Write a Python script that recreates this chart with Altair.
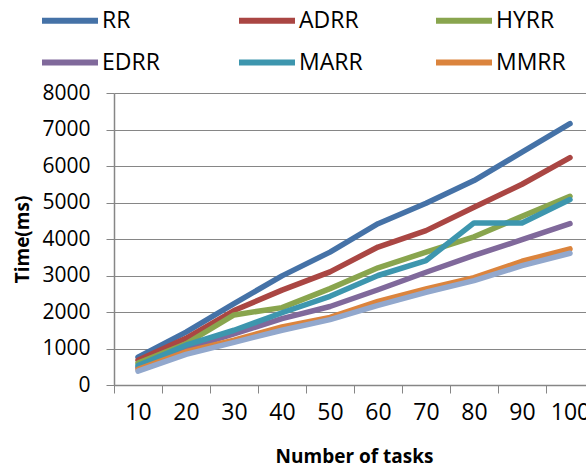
import altair as alt
import pandas as pd

tasks = [10, 20, 30, 40, 50, 60, 70, 80, 90, 100]
series_names = ["RR", "ADRR", "HYRR", "EDRR", "MARR", "MMRR"]
series_colors = ["#4572A7", "#AA4643", "#89A54E", "#80699B", "#3D96AE", "#DB843D"]
rr = [760, 1450, 2230, 2990, 3640, 4420, 4980, 5600, 6380, 7160]
adrr = [680, 1280, 2040, 2600, 3100, 3780, 4230, 4870, 5500, 6230]
hyrr = [600, 1130, 1920, 2120, 2640, 3210, 3640, 4060, 4620, 5170]
edrr = [480, 1000, 1400, 1820, 2150, 2610, 3090, 3550, 3980, 4420]
marr = [530, 1090, 1500, 1980, 2430, 3000, 3410, 4440, 4440, 5080]
mmrr = [430, 910, 1230, 1590, 1850, 2290, 2630, 2940, 3390, 3730]
extra_name = "Series7"
extra_color = "#92A8CD"
extra = [380, 840, 1170, 1500, 1790, 2180, 2540, 2860, 3270, 3610]
y_ticks = [0, 1000, 2000, 3000, 4000, 5000, 6000, 7000, 8000]

values = [rr, adrr, hyrr, edrr, marr, mmrr]
rows = []
for name, vals in zip(series_names, values):
    for t, v in zip(tasks, vals):
        rows.append({"tasks": str(t), "series": name, "time": v})
df = pd.DataFrame(rows)
df_extra = pd.DataFrame({"tasks": [str(t) for t in tasks], "time": extra, "series": extra_name})

GRAY = "#868686"
x_enc = alt.X(
    "tasks:O",
    sort=[str(t) for t in tasks],
    scale=alt.Scale(type="band", paddingInner=0, paddingOuter=0, range=[0, 480]),
    axis=alt.Axis(
        title="Number of tasks",
        tickBand="extent",
        labelAngle=0,
        labelFont="Open Sans",
        labelFontSize=23,
        labelColor="#000000",
        labelPadding=8,
        tickSize=8,
        tickColor=GRAY,
        domainColor=GRAY,
        domainWidth=1.5,
        grid=False,
        titleFont="Open Sans",
        titleFontSize=19,
        titleFontWeight="bold",
        titleColor="#000000",
        titleX=240,
        titleY=71,
        titleAlign="center",
        titleBaseline="middle",
    ),
)
y_enc = alt.Y(
    "time:Q",
    scale=alt.Scale(domain=[0, 8000], nice=False),
    axis=alt.Axis(
        title="Time(ms)",
        values=y_ticks,
        format="d",
        labelFont="Open Sans",
        labelFontSize=21,
        labelColor="#000000",
        labelPadding=16,
        tickSize=8,
        tickColor=GRAY,
        domainColor=GRAY,
        domainWidth=1.5,
        gridColor=GRAY,
        gridWidth=1,
        titleFont="Open Sans",
        titleFontSize=19,
        titleFontWeight="bold",
        titleColor="#000000",
        titleAngle=270,
        titleX=-92,
        titleY=146,
        titleAlign="center",
        titleBaseline="middle",
    ),
)

main = alt.Chart(df).mark_line(strokeWidth=5.5, strokeCap="round", strokeJoin="round").encode(
    x=x_enc,
    y=y_enc,
    color=alt.Color(
        "series:N",
        sort=series_names,
        scale=alt.Scale(domain=series_names, range=series_colors),
        legend=alt.Legend(
            title=None,
            orient="none",
            direction="horizontal",
            legendX=-75,
            legendY=-84,
            columns=3,
            gridAlign="all",
            columnPadding=64,
            rowPadding=18,
            symbolType="stroke",
            symbolSize=3136,
            symbolStrokeWidth=6,
            clipHeight=23,
            labelFont="Open Sans",
            labelFontSize=23,
            labelColor="#000000",
            labelOffset=1,
        ),
    ),
)

extra_line = alt.Chart(df_extra).mark_line(
    strokeWidth=5.5, strokeCap="round", strokeJoin="round", color=extra_color
).encode(x=x_enc, y=y_enc)

chart = (
    alt.layer(main, extra_line)
    .properties(
        width=472,
        height=292,
        autosize=alt.AutoSizeParams(type="none"),
        padding={"left": 114, "top": 93, "right": 0, "bottom": 82},
        background="#ffffff",
    )
    .configure_view(stroke=None)
)

chart.save("out.html", embed_options={"renderer": "svg", "actions": False})
